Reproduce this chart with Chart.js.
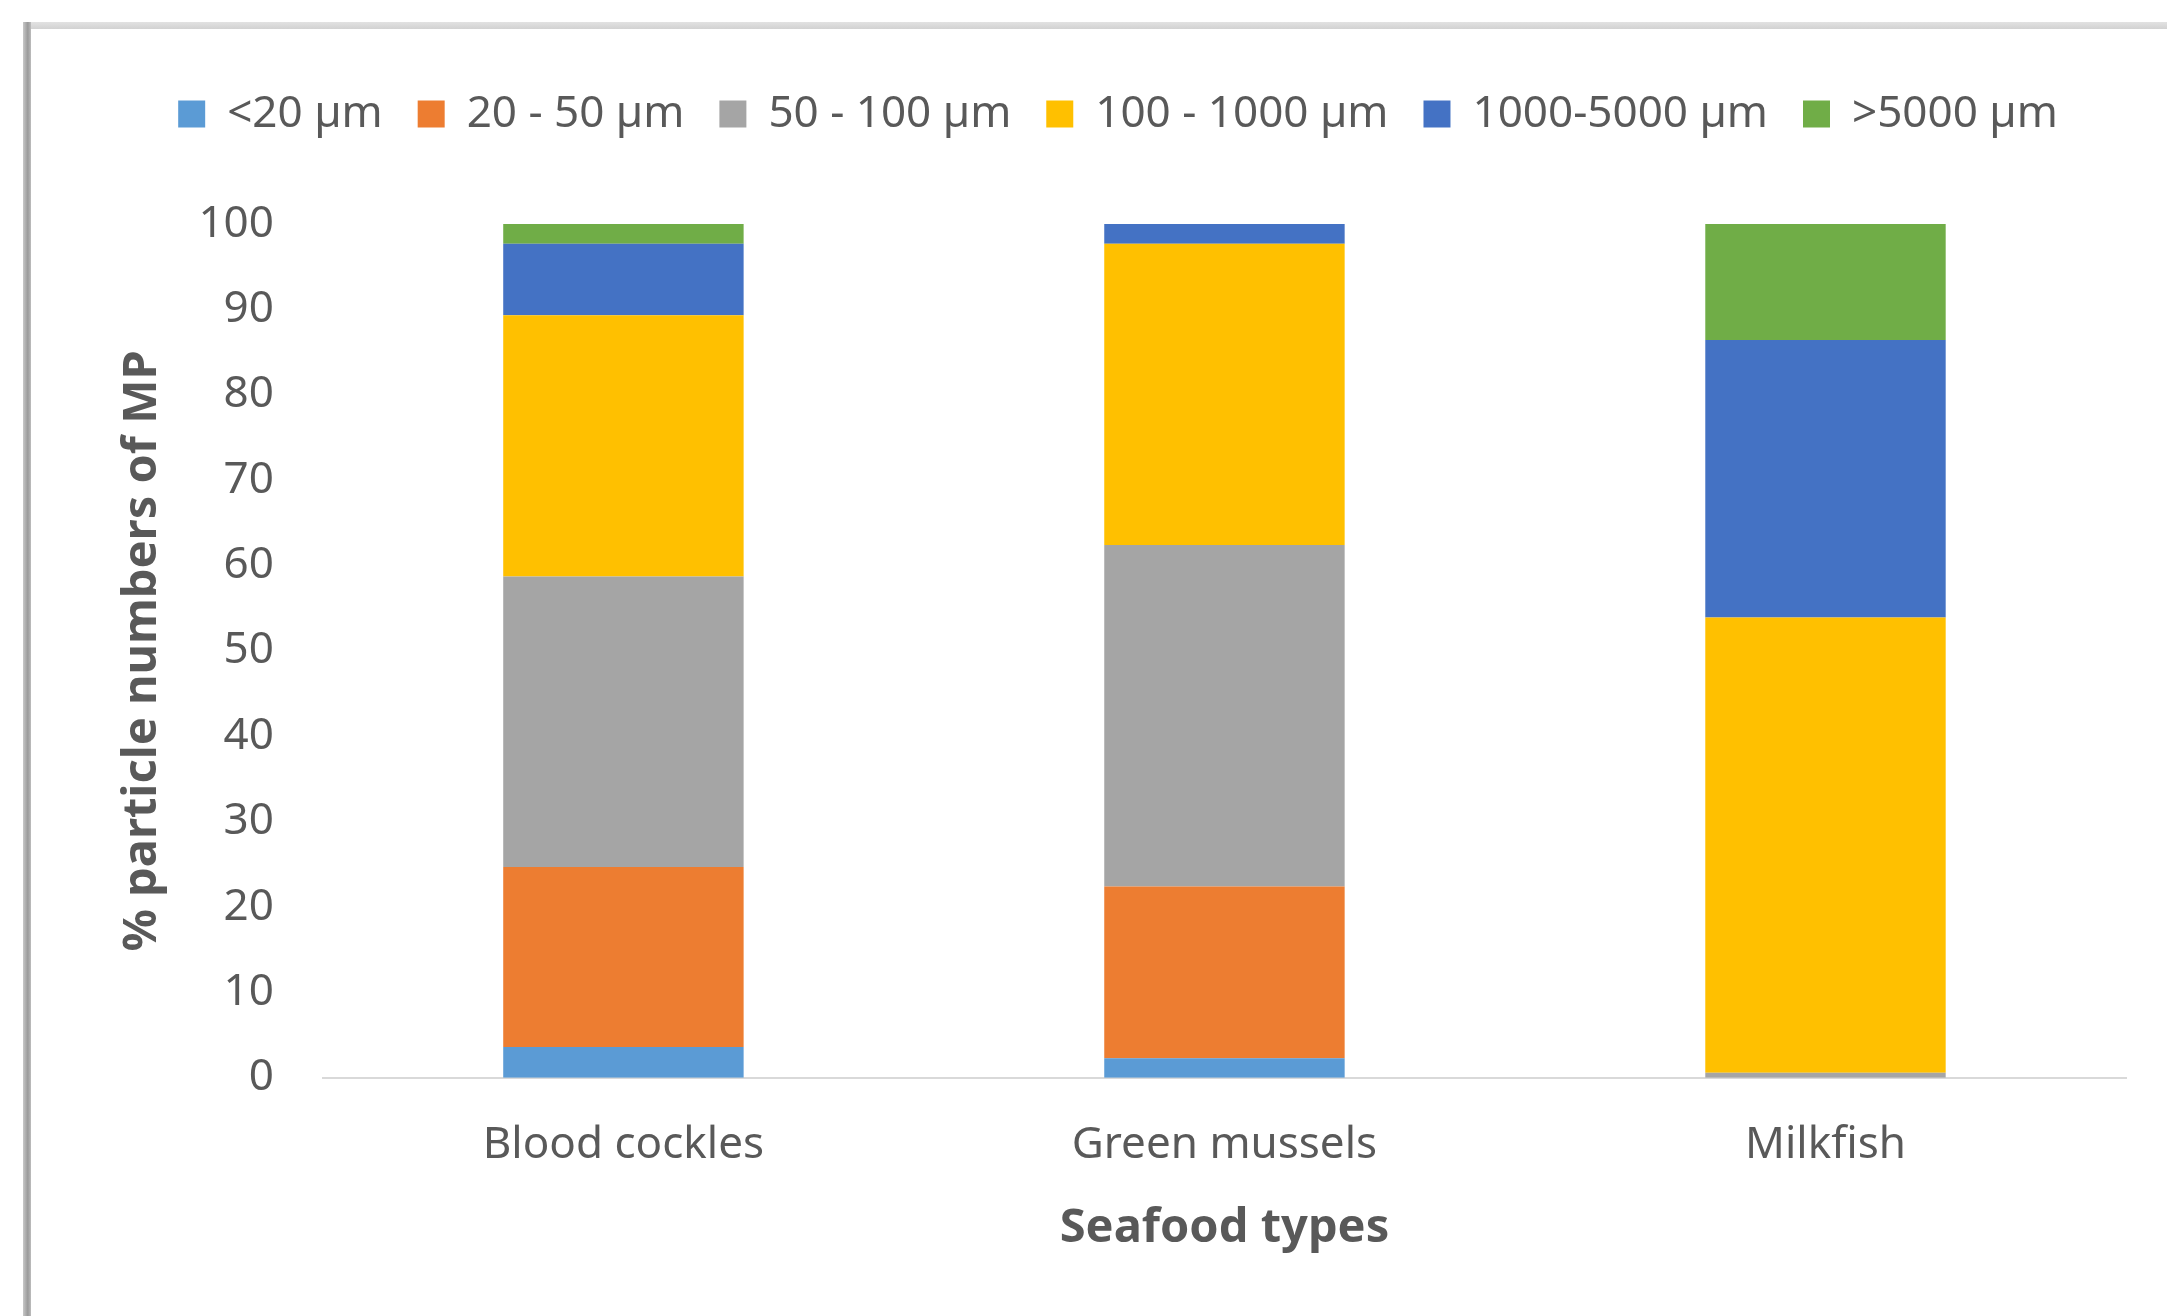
<!DOCTYPE html>
<html>
<head>
<meta charset="utf-8">
<script src="https://cdn.jsdelivr.net/npm/chart.js@4/dist/chart.umd.min.js"></script>
<style>
  html, body { margin: 0; padding: 0; background: #fff; }
  #wrap { position: relative; width: 2167px; height: 1316px; overflow: hidden; }
  .edge-top { position: absolute; left: 23px; top: 22px; right: 0; height: 7px;
    background: linear-gradient(#e2e2e2, #d2d2d2); }
  .edge-left { position: absolute; left: 23px; top: 22px; bottom: 0; width: 8px;
    background: linear-gradient(to right, #c8c8c8, #9a9a9a 60%, #bdbdbd); }
  #line_chart { position: absolute; left: 0; top: 0; }
</style>
</head>
<body>
<div id="wrap">
  <div class="edge-top"></div>
  <div class="edge-left"></div>
  <canvas id="line_chart" width="2167" height="1316"></canvas>
</div>
<script>
// seafood types on the x axis
var categories = ["Blood cockles", "Green mussels", "Milkfish"];

// % of particles per size class
var lt20     = [3.6, 2.3, 0];
var s20_50   = [21.1, 20.1, 0];
var s50_100  = [34.0, 40.0, 0.6];
var s100_1k  = [30.6, 35.3, 53.3];
var s1k_5k   = [8.4, 2.3, 32.5];
var gt5000   = [2.3, 0.4, 13.6];

var seriesNames = ["<20 µm", "20 - 50 µm", "50 - 100 µm", "100 - 1000 µm", "1000-5000 µm", ">5000 µm"];
var seriesColors = ["#5B9BD5", "#ED7D31", "#A5A5A5", "#FFC000", "#4472C4", "#70AD47"];
var yTicks = [0, 10, 20, 30, 40, 50, 60, 70, 80, 90, 100];

var textColor = '#595959';
var fontFamily = '"Noto Sans", "Open Sans", sans-serif';

var seriesValues = [lt20, s20_50, s50_100, s100_1k, s1k_5k, gt5000];
var datasets = seriesValues.map(function (vals, i) {
  return {
    label: seriesNames[i],
    data: vals,
    backgroundColor: seriesColors[i],
    borderWidth: 0,
    barPercentage: 0.4,
    categoryPercentage: 1.0
  };
});

// push the plot down a bit below the legend
var legendGap = {
  id: 'legendGap',
  beforeInit: function (chart) {
    var fit = chart.legend.fit;
    chart.legend.fit = function () {
      fit.bind(chart.legend)();
      this.height += 78;
    };
  }
};

new Chart(document.getElementById("line_chart").getContext("2d"), {
  type: 'bar',
  data: { labels: categories, datasets: datasets },
  plugins: [legendGap],
  options: {
    responsive: false,
    animation: false,
    devicePixelRatio: 1,
    layout: { padding: { left: 110, right: 41, top: 57, bottom: 55 } },
    plugins: {
      legend: {
        position: 'top',
        labels: {
          color: textColor,
          font: { family: fontFamily, size: 44 },
          boxWidth: 27,
          boxHeight: 27,
          padding: 35
        }
      },
      tooltip: { enabled: false }
    },
    scales: {
      x: {
        stacked: true,
        grid: { display: false },
        border: { display: true, color: '#D9D9D9', width: 2 },
        ticks: { color: textColor, font: { family: fontFamily, size: 44 }, padding: 33 },
        title: {
          display: true,
          text: 'Seafood types',
          color: textColor,
          font: { family: fontFamily, size: 47, weight: 'bold' },
          padding: { top: -4, bottom: 4 }
        }
      },
      y: {
        stacked: true,
        min: 0,
        max: 100,
        afterBuildTicks: function (axis) {
          axis.ticks = yTicks.map(function (v) { return { value: v }; });
        },
        grid: { display: false },
        border: { display: false },
        ticks: { color: textColor, font: { family: fontFamily, size: 44 }, padding: 41 },
        title: {
          display: true,
          text: '% particle numbers of MP',
          color: textColor,
          font: { family: fontFamily, size: 47, weight: 'bold' },
          padding: { top: 4, bottom: -13 }
        }
      }
    }
  }
});
</script>
</body>
</html>
